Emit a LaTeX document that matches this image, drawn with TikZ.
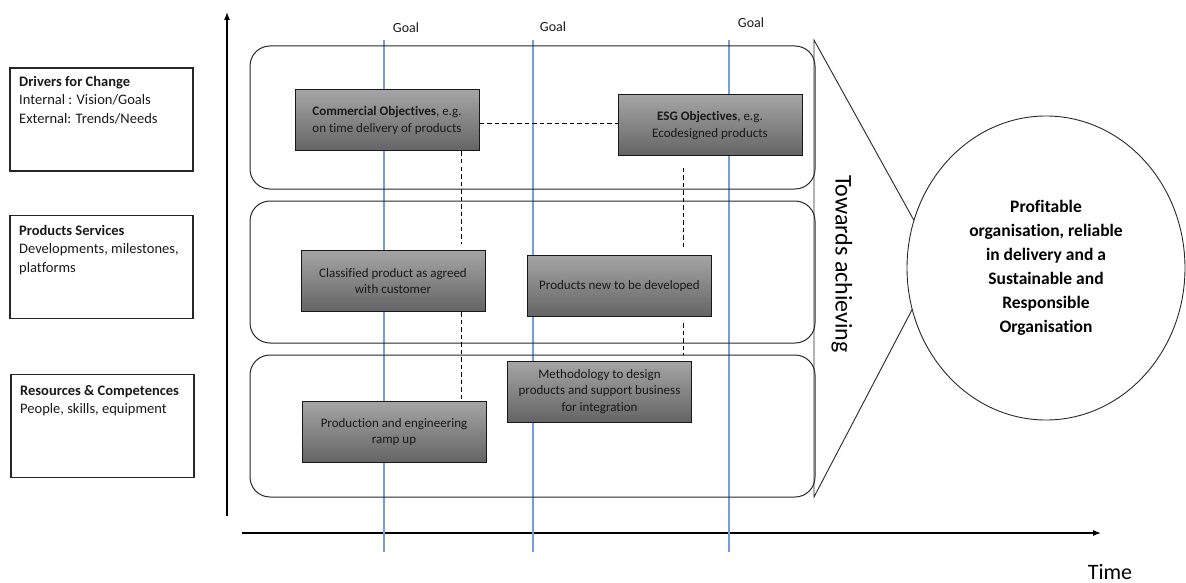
\documentclass[tikz,border=0pt]{standalone}
\usepackage{fontspec}
\setmainfont{Carlito}[Ligatures=CommonOff]
\usetikzlibrary{calc,arrows.meta,shapes.geometric}
\definecolor{goalblue}{RGB}{118,156,220}
\definecolor{boxtop}{RGB}{165,165,165}
\definecolor{boxbot}{RGB}{100,100,100}
\definecolor{boxtxt}{RGB}{25,25,25}
\definecolor{lanecol}{RGB}{40,40,40}
\begin{document}
\begin{tikzpicture}[x=1pt,y=-1pt,
  lane/.style={draw=lanecol, line width=1pt, rounded corners=20pt},
  leftbox/.style={draw=black!85, line width=1.1pt, inner sep=0pt, minimum width=183pt, minimum height=103pt},
  lefttext/.style={anchor=north west, inner sep=0pt, align=left, font=\fontsize{14.5}{18.5}\selectfont, text=black!90},
  graybox/.style={draw=black!90, line width=1pt, top color=boxtop, bottom color=boxbot, minimum width=184pt, minimum height=61pt, align=center, font=\fontsize{13}{16.7}\selectfont, text=boxtxt, inner sep=2pt},
  goalline/.style={draw=goalblue, line width=1.1pt},
  goaltext/.style={font=\fontsize{14}{17}\selectfont, text=black!90, inner sep=0pt},
  dashline/.style={draw=black, line width=0.9pt, dash pattern=on 4.5pt off 3pt},
  axis/.style={draw=black, line width=1.1pt, -{Latex[length=8pt,width=6pt]}},
]
\useasboundingbox (0,0) rectangle (1186,583);

% axes
\coordinate (yax0) at (227,516);
\coordinate (yax1) at (227,12);
\coordinate (tax0) at (242,533);
\coordinate (tax1) at (1101,533);
\draw[axis] (yax0) -- (yax1);
\draw[axis] (tax0) -- (tax1);
\node[font=\fontsize{22}{26}\selectfont, inner sep=0pt] (time) at (1110,572) {Time};

% goal lines
\coordinate (g1a) at (384,40); \coordinate (g1b) at (384,552);
\coordinate (g2a) at (533,40); \coordinate (g2b) at (533,552);
\coordinate (g3a) at (729,40); \coordinate (g3b) at (729,552);
\draw[goalline] (g1a) -- (g1b);
\draw[goalline] (g2a) -- (g2b);
\draw[goalline] (g3a) -- (g3b);
\node[goaltext] (goal1) at (406,28) {Goal};
\node[goaltext] (goal2) at (553,27) {Goal};
\node[goaltext] (goal3) at (751,23) {Goal};

% lanes
\draw[lane] (250,46) rectangle (815,189);
\draw[lane] (250,201) rectangle (815,343);
\draw[lane] (250,355) rectangle (815,497);

% left boxes
\node[leftbox] (drv) at (101.5,119.5) {};
\node[lefttext] (drvt) at (19,76) {\textbf{Drivers for Change}\\Internal : Vision/Goals\\External: Trends/Needs};
\node[leftbox] (prs) at (101.5,267) {};
\node[lefttext] (prst) at (19,225) {\textbf{Products Services}\\Developments, milestones,\\platforms};
\node[leftbox] (res) at (102.5,426) {};
\node[lefttext] (rest) at (20,385) {\textbf{Resources \& Competences}\\People, skills, equipment};

% triangle and goal circle
\coordinate (tA) at (814,40);
\coordinate (tB) at (937,262);
\coordinate (tC) at (814,497);
\draw[line width=0.9pt, draw=lanecol] (tA) -- (tB) -- (tC) -- cycle;
\node[draw=lanecol, line width=0.9pt, fill=white, ellipse, minimum width=278pt, minimum height=304pt, inner sep=0pt,
      align=center, font=\bfseries\fontsize{17.5}{24}\selectfont] (goalc) at (1046,268)
  {Profitable\\organisation, reliable\\in delivery and a\\Sustainable and\\Responsible\\Organisation};
\node[rotate=-90, font=\fontsize{24}{28}\selectfont, inner sep=0pt] (toward) at (842,264) {Towards achieving};

% gray boxes
\node[graybox] (com) at (387,120.5) {\textbf{Commercial Objectives}, e.g.\\on time delivery of products};
\node[graybox] (esg) at (710,125.5) {\textbf{ESG Objectives}, e.g.\\Ecodesigned products};
\node[graybox] (cls) at (393,281) {Classified product as agreed\\with customer};
\node[graybox] (pnew) at (619.5,286) {Products new to be developed};
\node[graybox] (meth) at (599.5,391.5) {Methodology to design\\products and support business\\for integration};
\node[graybox] (prod) at (394,432) {Production and engineering\\ramp up};

% dashed connectors
\coordinate (hy) at (0,123);
\coordinate (v1) at (461,0);
\coordinate (v2) at (683,0);
\coordinate (v2end) at (683,355);
\draw[dashline] (com.east |- hy) -- (esg.west |- hy);
\draw[dashline] (com.south -| v1) -- ($(cls.north -| v1)+(0,-6)$);
\draw[dashline] (cls.south -| v1) -- (prod.north -| v1);
\draw[dashline] ($(esg.south -| v2)+(0,11)$) -- ($(pnew.north -| v2)+(0,-8)$);
\draw[dashline] ($(pnew.south -| v2)+(0,6)$) -- (v2end);
\end{tikzpicture}
\end{document}
